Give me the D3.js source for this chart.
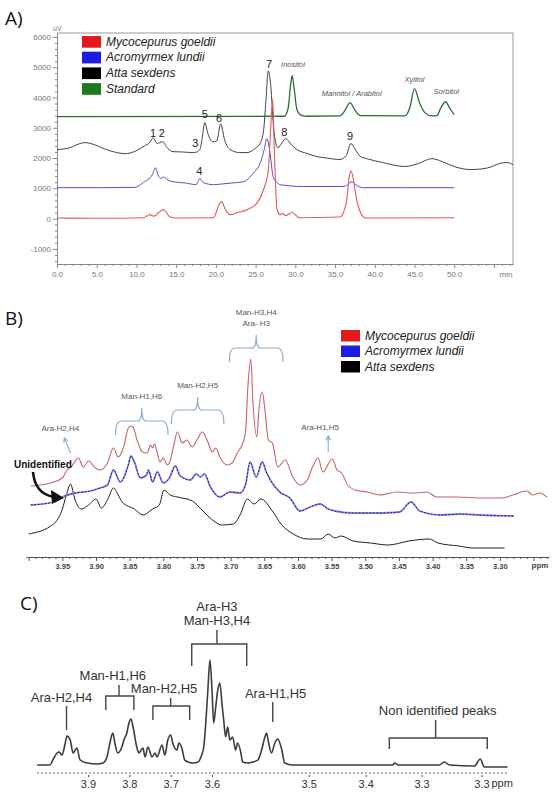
<!DOCTYPE html>
<html>
<head>
<meta charset="utf-8">
<script src="https://cdn.jsdelivr.net/npm/d3@7"></script>
<style>
html, body { margin: 0; padding: 0; background: #fff; }
svg { display: block; font-family: "Liberation Sans", Arial, sans-serif; }
</style>
</head>
<body>
<div id="chart"></div>
<script>
// ---------- A) HPLC chromatograms : [time (min), signal (uV)]
var attaA = [[0,2280],[1.5,2330],[2.7,2460],[3.5,2510],[4.5,2460],[6,2300],[7.5,2180],[8.6,2145],[9.8,2220],
  [11,2400],[11.7,2520],[12.1,2670],[12.6,2480],[13.3,2540],[13.9,2330],[14.6,2210],[15.8,2200],[17.1,2180],
  [17.6,2200],[18,2290],[18.3,2700],[18.6,3170],[19,2800],[19.6,2540],[20.1,2560],[20.6,3130],[21.1,2600],
  [21.8,2280],[23,2180],[23.9,2180],[25,2330],[25.6,2500],[26,2900],[26.3,3900],[26.6,4880],[26.9,4400],
  [27.3,2900],[27.8,2340],[28.3,2500],[28.8,2640],[29.5,2440],[30.2,2280],[31.5,2150],[32.7,2050],[34,2000],
  [35.6,1950],[36.4,2080],[37,2480],[37.5,2300],[38.2,2050],[39,1980],[41,1850],[43.8,1720],[45.5,1820],
  [47.2,1980],[48.5,1880],[50,1720],[52,1620],[53.5,1640],[54.8,1720],[55.7,1820],[56.7,1850],[57.4,1780]];
var acroA = [[0,1020],[5,1020],[9.8,1030],[10.9,1200],[12,1450],[12.4,1680],[12.8,1380],[13.1,1330],[13.4,1370],
  [14,1270],[14.6,1220],[16.3,1170],[17.5,1120],[18,1320],[18.4,1190],[19.7,1120],[21,1150],[22.2,1180],
  [23.5,1220],[24.7,1500],[25.6,1850],[26.1,2300],[26.4,2640],[26.8,2200],[27.2,1390],[27.7,1190],[28.1,1120],
  [31,1060],[36,1060],[36.6,1120],[37,1220],[37.6,1120],[38.5,1020],[44,1020],[50,1020]];
var mycoA = [[0,20],[5,10],[10.9,30],[11.7,130],[12.2,80],[12.8,200],[13.4,300],[14.2,60],[15,20],[19.7,30],
  [20.3,400],[20.7,560],[21.2,300],[21.8,130],[22.7,200],[24,300],[25.2,520],[26,960],[26.6,1600],[26.9,3000],
  [27.15,3930],[27.35,2300],[27.5,1190],[27.7,300],[28.1,130],[28.4,170],[28.8,100],[29.6,200],[30.5,30],
  [35.6,50],[36.4,500],[36.8,1400],[37,1580],[37.3,1300],[37.7,650],[38.2,200],[38.8,20],[50,30]];
var standardA = [[0,3370],[28.6,3380],[29.1,3650],[29.4,4400],[29.6,4720],[29.85,4300],[30.2,3600],[30.7,3420],
  [31.5,3380],[35.6,3390],[36.2,3550],[36.9,3830],[37.5,3580],[38.2,3400],[43.8,3390],[44.4,3650],[45,4290],
  [45.6,3850],[46.3,3500],[47.2,3390],[47.8,3400],[48.3,3650],[48.9,3860],[49.5,3620],[50,3430]];
var peakNumbersA = [["1",12.1,2706],["2",13.2,2706],["3",17.4,2376],["5",18.6,3333],["6",20.4,3201],
  ["7",26.7,4983],["8",28.6,2739],["9",36.9,2607],["4",17.9,1452]];
var standardNamesA = [["Inositol",29.7,5016],["Mannitol / Arabitol",37.1,4059],["Xylitol",45,4521],["Sorbitol",49,4125]];
var speciesA = ["Mycocepurus goeldii","Acromyrmex lundii","Atta sexdens","Standard"];

// ---------- B) 1H NMR spectra : [ppm, intensity]
var mycoB = [[3.997,71],[3.968,74],[3.950,79],[3.943,87],[3.937,90],[3.926,99],[3.919,90],[3.911,96],[3.901,89],
  [3.894,87],[3.883,94],[3.874,109],[3.867,100],[3.859,110],[3.852,129],[3.848,131],[3.845,130],[3.839,117],
  [3.831,105],[3.824,104],[3.819,112],[3.816,109],[3.813,113],[3.809,104],[3.805,95],[3.800,99],[3.794,92],
  [3.791,94],[3.785,110],[3.779,125],[3.772,114],[3.765,117],[3.757,110],[3.750,117],[3.742,125],[3.735,117],
  [3.727,105],[3.722,109],[3.716,100],[3.705,92],[3.698,94],[3.690,104],[3.683,112],[3.678,124],[3.674,174],
  [3.670,198],[3.667,157],[3.661,120],[3.658,147],[3.653,165],[3.649,147],[3.644,117],[3.638,114],[3.630,90],
  [3.619,97],[3.607,79],[3.597,72],[3.586,77],[3.579,89],[3.570,99],[3.563,85],[3.549,98],[3.542,87],[3.535,84],
  [3.526,72],[3.515,67],[3.497,65],[3.478,62],[3.453,65],[3.429,64],[3.408,65],[3.394,60],[3.364,60],[3.325,59],
  [3.296,59],[3.281,62],[3.260,66],[3.251,62],[3.241,64],[3.230,60]];
var acroB = [[3.997,52],[3.963,55],[3.950,60],[3.931,64],[3.908,66],[3.894,69],[3.883,72],[3.874,87],[3.864,75],
  [3.852,92],[3.848,101],[3.843,95],[3.834,79],[3.825,82],[3.822,87],[3.816,75],[3.809,85],[3.800,74],[3.791,79],
  [3.782,91],[3.776,82],[3.770,79],[3.760,77],[3.751,83],[3.745,80],[3.739,83],[3.730,70],[3.716,60],[3.701,65],
  [3.686,64],[3.678,72],[3.671,95],[3.662,80],[3.653,95],[3.647,85],[3.641,77],[3.627,65],[3.612,59],[3.597,46],
  [3.582,50],[3.567,53],[3.555,48],[3.545,46],[3.518,44],[3.477,44],[3.449,45],[3.432,55],[3.419,46],[3.388,42],
  [3.359,43],[3.330,42],[3.279,41]];
var attaB = [[4.000,23],[3.963,33],[3.950,48],[3.944,62],[3.938,73],[3.931,57],[3.922,48],[3.911,52],[3.900,58],
  [3.892,49],[3.883,57],[3.874,69],[3.867,62],[3.861,55],[3.843,48],[3.830,42],[3.816,48],[3.806,52],[3.799,67],
  [3.790,62],[3.779,60],[3.757,56],[3.741,46],[3.723,35],[3.713,32],[3.696,33],[3.686,42],[3.675,58],[3.665,53],
  [3.655,58],[3.638,46],[3.624,32],[3.607,23],[3.586,18],[3.566,18],[3.555,23],[3.545,19],[3.536,21],[3.518,16],
  [3.492,14],[3.466,12],[3.435,16],[3.405,18],[3.392,14],[3.361,11],[3.340,9],[3.293,9]];
var speciesB = ["Mycocepurus goeldii","Acromyrmex lundii","Atta sexdens"];

// ---------- C) reference spectrum : [ppm as drawn, intensity]
var spectrumC = [[4.023,8],[3.992,8],[3.985,13],[3.975,20],[3.970,21],[3.963,18],[3.956,28],[3.951,37],[3.943,33],
  [3.936,20],[3.931,23],[3.927,25],[3.919,13],[3.902,10],[3.878,9],[3.864,10],[3.854,16],[3.847,30],[3.840,40],
  [3.835,30],[3.828,20],[3.818,26],[3.813,33],[3.806,40],[3.801,50],[3.796,54],[3.791,46],[3.782,26],[3.777,20],
  [3.767,25],[3.762,16],[3.755,26],[3.745,16],[3.738,20],[3.733,16],[3.721,28],[3.714,18],[3.707,33],[3.700,38],
  [3.695,30],[3.685,23],[3.680,30],[3.673,25],[3.666,13],[3.658,11],[3.646,10],[3.634,11],[3.625,18],[3.620,26],
  [3.615,50],[3.610,83],[3.605,113],[3.600,83],[3.596,50],[3.591,66],[3.586,83],[3.581,90],[3.576,70],[3.571,50],
  [3.567,36],[3.562,46],[3.557,33],[3.550,36],[3.543,23],[3.538,30],[3.530,20],[3.526,11],[3.514,10],[3.501,11],
  [3.489,13],[3.480,23],[3.472,36],[3.468,40],[3.463,30],[3.456,20],[3.448,30],[3.441,34],[3.431,23],[3.424,10],
  [3.405,8],[3.315,8],[3.163,8],[3.158,10],[3.150,8],[3.050,8],[3.038,11],[3.025,8],[2.965,7],[2.951,14],
  [2.941,6],[2.885,6]];
var tickValuesC = [3.9,3.8,3.7,3.6,3.366,3.228,3.093,2.948];
var tickLabelsC = ["3.9","3.8","3.7","3.6","3.5","3.4","3.3","3.3"];

var legendColors = ["#e4191c","#1c1ce2","#000000","#1f7a1f"];

var width = 553, height = 797;
var svg = d3.select("#chart").append("svg")
    .attr("width", width)
    .attr("height", height);

function curveLine(x, y) {
  return d3.line()
    .x(function (d) { return x(d[0]); })
    .y(function (d) { return y(d[1]); })
    .curve(d3.curveMonotoneX);
}

function panelLabel(text, x, y) {
  svg.append("text").attr("x", x).attr("y", y)
    .style("font-family", "'Open Sans', sans-serif")
    .style("font-size", "19px").attr("fill", "#111").text(text);
}

function legend(g, names, x0, y0, step, size) {
  names.forEach(function (n, i) {
    g.append("rect").attr("x", x0).attr("y", y0 + i * step)
      .attr("width", 19).attr("height", step - 4)
      .attr("fill", legendColors[i]);
    g.append("text").attr("x", x0 + 24).attr("y", y0 + i * step + step - 6)
      .style("font-size", size + "px").style("font-style", "italic")
      .attr("fill", "#222").text(n);
  });
}

// ================= A =================
panelLabel("A)", 5, 25);
var xA = d3.scaleLinear().domain([0, 57.4]).range([57, 513]);
var yA = d3.scaleLinear().domain([-1500, 6130]).range([264, 33]);
var gA = svg.append("g");

gA.append("path")
  .attr("d", "M" + xA.range()[0] + "," + yA.range()[1] + "H" + xA.range()[1] + "V" + yA.range()[0])
  .attr("fill", "none").attr("stroke", "#999");

var axA = gA.append("g").attr("transform", "translate(0," + yA.range()[0] + ")")
  .call(d3.axisBottom(xA).tickValues(d3.range(0, 58, 1)).tickSizeInner(2).tickSizeOuter(0)
    .tickFormat(function (d) { return (d % 5 === 0 && d <= 50) ? d.toFixed(1) : ""; }));
axA.selectAll(".tick line").filter(function (d) { return d % 5 === 0; }).attr("y2", 4);
axA.selectAll("text").attr("y", 7).style("font-size", "8px").attr("fill", "#777");
axA.selectAll("line,path").attr("stroke", "#888");
gA.append("text").attr("x", 506).attr("y", 277).style("font-size", "8px").attr("fill", "#777")
  .attr("text-anchor", "middle").text("min");

var ayA = gA.append("g").attr("transform", "translate(" + xA.range()[0] + ",0)")
  .call(d3.axisLeft(yA).tickValues(d3.range(-1400, 6001, 200)).tickSizeInner(2).tickSizeOuter(0)
    .tickFormat(function (d) { return d % 1000 === 0 ? String(d) : ""; }));
ayA.selectAll(".tick line").filter(function (d) { return d % 1000 === 0; }).attr("x2", -4);
ayA.selectAll("text").attr("x", -6).style("font-size", "8px").attr("fill", "#777");
ayA.selectAll("line,path").attr("stroke", "#888");
gA.append("text").attr("x", 53).attr("y", 31).style("font-size", "7px").attr("fill", "#777").text("uV");

var lineA = curveLine(xA, yA);
[[standardA, "#2b6e2b", 1.3], [attaA, "#444", 1], [acroA, "#5252c8", 1], [mycoA, "#dd5a5a", 1.1]]
  .forEach(function (s) {
    gA.append("path").datum(s[0]).attr("d", lineA)
      .attr("fill", "none").attr("stroke", s[1]).attr("stroke-width", s[2]);
  });

gA.selectAll(".peakno").data(peakNumbersA).enter().append("text")
  .attr("x", function (d) { return xA(d[1]); }).attr("y", function (d) { return yA(d[2]); })
  .attr("text-anchor", "middle").style("font-size", "11px").attr("fill", "#222")
  .text(function (d) { return d[0]; });
gA.selectAll(".stdname").data(standardNamesA).enter().append("text")
  .attr("x", function (d) { return xA(d[1]); }).attr("y", function (d) { return yA(d[2]); })
  .attr("text-anchor", "middle").style("font-size", "7.5px").style("font-style", "italic")
  .attr("fill", "#555").text(function (d) { return d[0]; });

legend(gA, speciesA, 82, 36, 15.7, 12);

// ================= B =================
panelLabel("B)", 5, 325);
var xB = d3.scaleLinear().domain([4.004, 3.227]).range([26, 549]);
var yB = d3.scaleLinear().domain([0, 230]).range([557, 327]);
var gB = svg.append("g");

var axB = gB.append("g").attr("transform", "translate(0," + yB(0) + ")")
  .call(d3.axisBottom(xB).tickValues(d3.range(323, 401).map(function (d) { return d / 100; }))
    .tickSizeInner(2).tickSizeOuter(0)
    .tickFormat(function (d) {
      var h = Math.round(d * 100);
      return (h % 5 === 0 && h >= 330 && h <= 395) ? d.toFixed(2) : "";
    }));
axB.selectAll(".tick line").filter(function (d) { return Math.round(d * 100) % 5 === 0; }).attr("y2", 4);
axB.selectAll("text").attr("y", 7).style("font-size", "7.5px").style("font-weight", "bold").attr("fill", "#444");
axB.selectAll("line,path").attr("stroke", "#555");
gB.append("text").attr("x", 540).attr("y", 568).attr("text-anchor", "middle")
  .style("font-size", "8px").style("font-weight", "bold").attr("fill", "#444").text("ppm");

var lineB = curveLine(xB, yB);
gB.append("path").datum(attaB).attr("d", lineB)
  .attr("fill", "none").attr("stroke", "#222").attr("stroke-width", 1);
// blue trace: light halo plus dark dotted core, like the noisy scan
gB.append("path").datum(acroB).attr("d", lineB)
  .attr("fill", "none").attr("stroke", "#8c8ce6").attr("stroke-width", 1.8);
gB.append("path").datum(acroB).attr("d", lineB)
  .attr("fill", "none").attr("stroke", "#1c1c9a").attr("stroke-width", 1)
  .attr("stroke-dasharray", "2,1.5");
gB.append("path").datum(mycoB).attr("d", lineB)
  .attr("fill", "none").attr("stroke", "#c86464").attr("stroke-width", 1.1);

// braces over the assigned regions
var braceColor = "#86aed2";
function brace(g, x1, x2, xm, yTop) {
  var yTip = yTop - 13, yEnd = yTop + 14;
  g.append("path")
    .attr("d", "M" + x1 + "," + yEnd + " Q" + x1 + "," + yTop + " " + (x1 + 6) + "," + yTop +
      " L" + (xm - 4) + "," + yTop + " Q" + xm + "," + yTop + " " + xm + "," + yTip +
      " Q" + xm + "," + yTop + " " + (xm + 4) + "," + yTop +
      " L" + (x2 - 6) + "," + yTop + " Q" + x2 + "," + yTop + " " + x2 + "," + yEnd)
    .attr("fill", "none").attr("stroke", braceColor).attr("stroke-width", 1.2);
  return yTip;
}
var bBraces = [
  { lines: ["Man-H3,H4", "Ara- H3"], from: 3.702, to: 3.622, level: 209 },
  { lines: ["Man-H2,H5"], from: 3.788, to: 3.710, level: 147 },
  { lines: ["Man-H1,H6"], from: 3.871, to: 3.793, level: 136 }
];
bBraces.forEach(function (b) {
  var xm = (xB(b.from) + xB(b.to)) / 2;
  var tip = brace(gB, xB(b.from), xB(b.to), xm, yB(b.level));
  var n = b.lines.length;
  b.lines.forEach(function (t, i) {
    gB.append("text").attr("x", xm).attr("y", tip - 9 - (n - 1 - i) * 11)
      .attr("text-anchor", "middle").style("font-size", "8px").attr("fill", "#555").text(t);
  });
});
function smallArrow(g, x1, y1, x2, y2) {
  var a = Math.atan2(y2 - y1, x2 - x1), L = 5;
  g.append("path")
    .attr("d", "M" + x1 + "," + y1 + "L" + x2 + "," + y2 +
      "M" + (x2 - L * Math.cos(a - 0.5)) + "," + (y2 - L * Math.sin(a - 0.5)) + "L" + x2 + "," + y2 +
      "L" + (x2 - L * Math.cos(a + 0.5)) + "," + (y2 - L * Math.sin(a + 0.5)))
    .attr("fill", "none").attr("stroke", braceColor).attr("stroke-width", 1.1);
}
var bArrows = [
  { text: "Ara-H2,H4", tx: 3.953, ty: 126, x1: 3.938, y1: 104, x2: 3.947, y2: 119 },
  { text: "Ara-H1,H5", tx: 3.567, ty: 127, x1: 3.555, y1: 105, x2: 3.555, y2: 121 }
];
bArrows.forEach(function (a) {
  gB.append("text").attr("x", xB(a.tx)).attr("y", yB(a.ty)).attr("text-anchor", "middle")
    .style("font-size", "8px").attr("fill", "#555").text(a.text);
  smallArrow(gB, xB(a.x1), yB(a.y1), xB(a.x2), yB(a.y2));
});
gB.append("text").attr("x", 14).attr("y", 468).style("font-size", "10px").style("font-weight", "bold")
  .attr("fill", "#111").text("Unidentified");
gB.append("path").attr("d", "M33,472 Q35,494 54,497").attr("fill", "none")
  .attr("stroke", "#111").attr("stroke-width", 2.6);
gB.append("path").attr("d", "M64,498 L51,490 L52,504 Z").attr("fill", "#111");

legend(gB, speciesB, 341, 330, 15.5, 12);

// ================= C =================
panelLabel("C)", 20, 610);
var xC = d3.scaleLinear().domain([3.9, 3.6]).range([88, 212]);
var yC = d3.scaleLinear().domain([0, 200]).range([773, 573]);
var gC = svg.append("g");

gC.append("line").attr("x1", xC(4.023)).attr("x2", xC(2.885)).attr("y1", yC(0)).attr("y2", yC(0))
  .attr("stroke", "#777").attr("stroke-width", 1.4).attr("stroke-dasharray", "1.5,2.5");
var axC = gC.append("g").attr("transform", "translate(0," + yC(0) + ")")
  .call(d3.axisBottom(xC).tickValues(tickValuesC).tickSizeInner(4).tickSizeOuter(0)
    .tickFormat(function (d, i) { return tickLabelsC[i]; }));
axC.select(".domain").remove();
axC.selectAll(".tick line").attr("stroke", "#444").attr("y1", 2);
axC.selectAll("text").attr("y", 7).style("font-size", "11px").attr("fill", "#333");
gC.append("text").attr("x", xC(2.948) + 10).attr("y", 787).style("font-size", "11px")
  .attr("fill", "#333").text("ppm");

gC.append("path").datum(spectrumC).attr("d", curveLine(xC, yC))
  .attr("fill", "none").attr("stroke", "#3c3c3c").attr("stroke-width", 1.6);

var annColor = "#444";
function bracketC(x1, x2, xs, yH, legLen, stemTop) {
  gC.append("path")
    .attr("d", "M" + x1 + "," + (yH + legLen) + "V" + yH + "H" + x2 + "V" + (yH + legLen) +
      "M" + xs + "," + yH + "V" + stemTop)
    .attr("fill", "none").attr("stroke", annColor).attr("stroke-width", 1.4);
}
var cBrackets = [
  { lines: ["Ara-H3", "Man-H3,H4"], from: 3.649, to: 3.516, stem: 3.588, tx: 3.588, level: 129, leg: 22, stemLen: 14 },
  { lines: ["Man-H1,H6"], from: 3.857, to: 3.789, stem: 3.825, tx: 3.84, level: 77, leg: 14, stemLen: 11 },
  { lines: ["Man-H2,H5"], from: 3.743, to: 3.654, stem: 3.700, tx: 3.716, level: 67, leg: 14, stemLen: 8 },
  { lines: ["Non identified peaks"], from: 3.171, to: 2.934, stem: 3.059, tx: 3.054, level: 35, leg: 11, stemLen: 18 }
];
cBrackets.forEach(function (b) {
  var yH = yC(b.level), top = yH - b.stemLen;
  bracketC(xC(b.from), xC(b.to), xC(b.stem), yH, b.leg, top);
  var n = b.lines.length;
  b.lines.forEach(function (t, i) {
    gC.append("text").attr("x", xC(b.tx)).attr("y", top - 5 - (n - 1 - i) * 14.5)
      .attr("text-anchor", "middle").style("font-size", "13px").attr("fill", "#333").text(t);
  });
});
var cSingles = [
  { text: "Ara-H2,H4", x: 3.952, tx: 3.964, top: 67, bottom: 43 },
  { text: "Ara-H1,H5", x: 3.453, tx: 3.446, top: 71, bottom: 51 }
];
cSingles.forEach(function (s) {
  gC.append("line").attr("x1", xC(s.x)).attr("x2", xC(s.x)).attr("y1", yC(s.top)).attr("y2", yC(s.bottom))
    .attr("stroke", annColor).attr("stroke-width", 1.4);
  gC.append("text").attr("x", xC(s.tx)).attr("y", yC(s.top) - 4).attr("text-anchor", "middle")
    .style("font-size", "13px").attr("fill", "#333").text(s.text);
});
</script>
</body>
</html>
